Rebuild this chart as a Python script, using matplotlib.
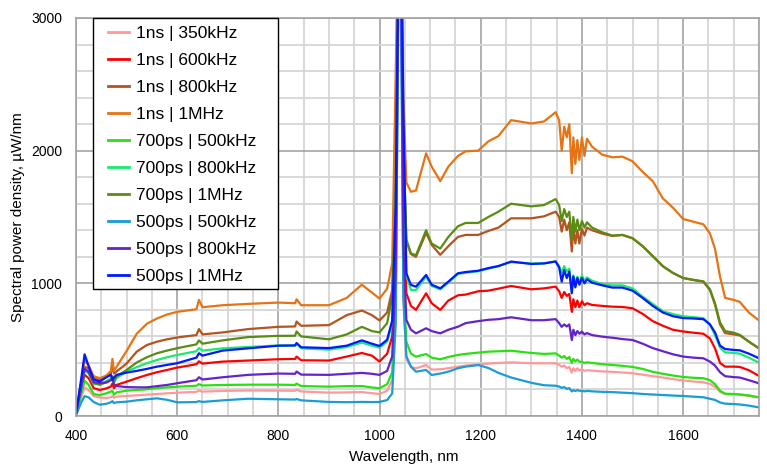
import numpy as np
import matplotlib.pyplot as plt
from matplotlib.ticker import MultipleLocator
from matplotlib.patches import Rectangle

plt.rcParams['font.family'] = ['Liberation Sans', 'DejaVu Sans']

# wavelength samples, nm
wl = [400, 410, 417, 425, 435, 447, 460, 469, 472, 475,
      480, 500, 520, 540, 560, 580, 600, 638, 643, 650,
      690, 740, 800, 833, 836, 845, 900, 935, 965, 985,
      1000, 1015, 1025, 1032, 1040, 1047, 1053, 1062, 1072, 1092,
      1103, 1120, 1136, 1155, 1170, 1195, 1215, 1235, 1260, 1300,
      1325, 1348, 1355, 1360, 1365, 1370, 1375, 1380, 1383, 1387,
      1391, 1395, 1400, 1405, 1410, 1420, 1440, 1460, 1480, 1500,
      1520, 1540, 1560, 1580, 1600, 1620, 1640, 1653, 1663, 1673,
      1683, 1700, 1712, 1730, 1750]

# spectral power density, uW/nm
ns1_350k = [10, 140, 215, 195, 150, 140, 135, 142, 150, 138,
            146, 151, 156, 161, 166, 171, 176, 182, 192, 184,
            189, 192, 191, 190, 198, 185, 176, 178, 180, 172,
            166, 190, 270, 800, 4500, 900, 430, 372, 359, 384,
            350, 352, 360, 372, 380, 389, 395, 400, 404, 398,
            397, 397, 385, 372, 380, 360, 370, 327, 360, 340,
            360, 345, 350, 340, 345, 342, 336, 333, 328, 322,
            312, 300, 290, 278, 268, 260, 254, 242, 220, 182,
            166, 163, 160, 152, 138]
ns1_600k = [20, 200, 310, 285, 210, 196, 208, 222, 245, 210,
            234, 259, 285, 309, 330, 347, 365, 390, 412, 395,
            410, 418, 428, 430, 448, 420, 418, 448, 475, 455,
            410, 470, 600, 1300, 4500, 1600, 925, 830, 800, 925,
            850, 800, 870, 910, 915, 940, 945, 960, 980, 955,
            962, 975, 940, 890, 935, 905, 920, 785, 880, 820,
            870, 820, 865, 835, 850, 837, 830, 824, 822, 812,
            770, 715, 680, 650, 637, 628, 620, 585, 510, 400,
            372, 372, 370, 345, 302]
ns1_800k = [20, 220, 370, 360, 285, 270, 295, 320, 395, 320,
            335, 395, 485, 535, 560, 578, 592, 610, 655, 615,
            630, 655, 672, 675, 712, 680, 685, 760, 795, 760,
            720, 780, 950, 1800, 4500, 2000, 1320, 1220, 1200, 1380,
            1290, 1215, 1280, 1350, 1365, 1365, 1395, 1420, 1490, 1490,
            1505, 1540, 1500, 1390, 1480, 1400, 1460, 1240, 1420, 1300,
            1400, 1300, 1410, 1360, 1420, 1400, 1375, 1357, 1365, 1340,
            1280, 1205, 1130, 1078, 1040, 1025, 1012, 950, 840, 690,
            625, 615, 608, 560, 510]
ns1_1m = [20, 250, 420, 380, 300, 285, 305, 340, 430, 340,
          370, 490, 620, 695, 735, 765, 785, 805, 875, 820,
          835, 845, 855, 850, 880, 835, 835, 890, 990, 930,
          885, 960, 1150, 2600, 4500, 2400, 1760, 1690, 1700, 1980,
          1880, 1770, 1880, 1960, 1995, 2000, 2070, 2110, 2230, 2205,
          2220, 2290, 2230, 2000, 2180, 2100, 2200, 1830, 2100, 1900,
          2080, 1930, 2100, 1960, 2090, 2030, 1970, 1950, 1955, 1920,
          1840, 1770, 1640, 1570, 1485, 1465, 1445, 1377, 1260, 1050,
          890, 875, 860, 780, 720]
ps700_500k = [10, 160, 265, 235, 165, 158, 171, 184, 190, 160,
              178, 191, 196, 201, 210, 216, 221, 228, 240, 230,
              234, 236, 236, 234, 244, 226, 221, 225, 226, 215,
              209, 240, 330, 900, 4500, 1000, 560, 470, 447, 467,
              440, 427, 445, 460, 468, 478, 485, 488, 492, 475,
              468, 472, 455, 440, 452, 430, 445, 400, 430, 412,
              425, 410, 407, 400, 405, 400, 390, 385, 378, 370,
              355, 333, 318, 305, 294, 288, 285, 270, 240, 190,
              168, 166, 163, 155, 141]
ps700_800k = [20, 200, 345, 320, 240, 240, 262, 283, 265, 250,
              285, 335, 368, 398, 422, 443, 460, 488, 512, 493,
              510, 520, 532, 530, 545, 510, 500, 520, 553, 530,
              515, 560, 700, 1500, 4500, 1800, 1060, 950, 950, 1050,
              980, 955, 1005, 1070, 1080, 1090, 1110, 1130, 1160, 1150,
              1150, 1165, 1130, 1080, 1130, 1090, 1110, 940, 1060, 1000,
              1050, 1010, 1060, 1020, 1045, 1020, 995, 985, 985, 962,
              900, 845, 790, 768, 752, 745, 738, 690, 610, 515,
              480, 475, 470, 440, 402]
ps700_1m = [20, 210, 355, 330, 250, 235, 255, 272, 300, 265,
            297, 347, 403, 443, 473, 493, 511, 540, 570, 545,
            570, 595, 604, 605, 637, 600, 578, 615, 672, 640,
            630, 700, 900, 1700, 4500, 2100, 1330, 1225, 1212, 1400,
            1300, 1262, 1350, 1430, 1455, 1455, 1500, 1540, 1600, 1580,
            1590, 1635, 1590, 1470, 1560, 1500, 1540, 1330, 1500, 1390,
            1480, 1400, 1470, 1420, 1460, 1420, 1385, 1360, 1365, 1340,
            1280, 1205, 1128, 1078, 1040, 1027, 1015, 955, 850, 705,
            640, 628, 612, 560, 510]
ps500_500k = [5, 100, 150, 140, 105, 85, 92, 104, 112, 98,
              103, 108, 118, 126, 133, 122, 103, 105, 112, 106,
              118, 130, 126, 124, 128, 118, 106, 104, 106, 105,
              106, 120, 170, 700, 4500, 900, 450, 372, 334, 347,
              309, 320, 334, 360, 372, 384, 362, 325, 290, 250,
              232, 228, 222, 212, 218, 205, 210, 185, 195, 188,
              195, 190, 190, 186, 189, 186, 182, 180, 176, 172,
              166, 162, 158, 154, 151, 146, 141, 130, 121, 102,
              93, 90, 87, 78, 65]
ps500_800k = [20, 210, 355, 335, 255, 248, 252, 270, 285, 240,
              226, 218, 216, 216, 225, 234, 247, 270, 292, 275,
              292, 310, 320, 318, 335, 312, 310, 318, 325, 318,
              310, 340, 450, 1100, 4500, 1300, 724, 650, 623, 661,
              640, 623, 650, 673, 700, 715, 725, 730, 744, 722,
              722, 730, 700, 672, 690, 675, 690, 573, 650, 610,
              640, 620, 636, 615, 625, 610, 598, 590, 580, 573,
              545, 512, 488, 465, 448, 440, 435, 410, 380, 330,
              300, 293, 290, 270, 246]
ps500_1m = [20, 272, 465, 375, 275, 260, 292, 310, 275, 290,
            310, 327, 340, 355, 372, 385, 398, 440, 473, 455,
            493, 510, 530, 532, 550, 518, 512, 530, 570, 545,
            528, 575, 720, 1600, 4500, 2300, 1076, 988, 975, 1063,
            990, 962, 1013, 1076, 1085, 1095, 1115, 1130, 1164, 1146,
            1150, 1165, 1120, 1013, 1100, 1040, 1090, 925, 1050, 970,
            1040, 990, 1040, 1000, 1030, 1005, 985, 968, 968, 945,
            890, 830, 780, 752, 738, 735, 730, 690, 630, 530,
            505, 498, 495, 470, 435]

labels = ['1ns | 350kHz', '1ns | 600kHz', '1ns | 800kHz', '1ns | 1MHz',
          '700ps | 500kHz', '700ps | 800kHz', '700ps | 1MHz',
          '500ps | 500kHz', '500ps | 800kHz', '500ps | 1MHz']
series = [ns1_350k, ns1_600k, ns1_800k, ns1_1m,
          ps700_500k, ps700_800k, ps700_1m,
          ps500_500k, ps500_800k, ps500_1m]
colors = ['#ff9999', '#ff0000', '#b4541e', '#e67314',
          '#2be010', '#1aeb6e', '#5a8c14',
          '#1a9cd6', '#6622cc', '#0019ff']

fig = plt.figure(figsize=(7.67, 4.66), dpi=100)
ax = fig.add_axes([76/767, 50/466, 683/767, 398/466])

for y, lab, c in zip(series, labels, colors):
    ax.plot(wl, y, color=c, lw=1.6, label=lab)

ax.set_xlim(400, 1750)
ax.set_ylim(0, 3000)
ax.xaxis.set_major_locator(MultipleLocator(200))
ax.xaxis.set_minor_locator(MultipleLocator(50))
ax.yaxis.set_major_locator(MultipleLocator(1000))
ax.yaxis.set_minor_locator(MultipleLocator(200))
ax.set_axisbelow(True)
ax.grid(which='minor', color='#d6d6d6', lw=1.3)
ax.grid(which='major', color='#a3a3a3', lw=1.2)
ax.tick_params(which='both', length=0, labelsize=10)
ax.tick_params(axis='x', pad=9)
ax.tick_params(axis='y', pad=10)
for sp in ax.spines.values():
    sp.set_color('#a3a3a3')
    sp.set_linewidth(1.2)

ax.set_xlabel('Wavelength, nm', fontsize=11)
ax.xaxis.set_label_coords(0.48, -0.085)
ax.set_ylabel('Spectral power density, µW/nm', fontsize=11)
ax.yaxis.set_label_coords(-0.074, 0.5)

# legend frame drawn separately to get the wide side padding
ax.add_patch(Rectangle((17/683, 127/398), 185/683, 271/398, transform=ax.transAxes,
                       facecolor='white', edgecolor='black', lw=1.0, zorder=4, clip_on=False))
leg = ax.legend(loc='upper left', bbox_to_anchor=(32/683, 1.0 - 8/398), borderaxespad=0,
                borderpad=0, fontsize=12.5, frameon=False, handlelength=1.2,
                handletextpad=0.4, labelspacing=0.68)
for h in leg.get_lines():
    h.set_linewidth(2.0)
leg.set_zorder(5)

plt.savefig('out.png', dpi=100)
